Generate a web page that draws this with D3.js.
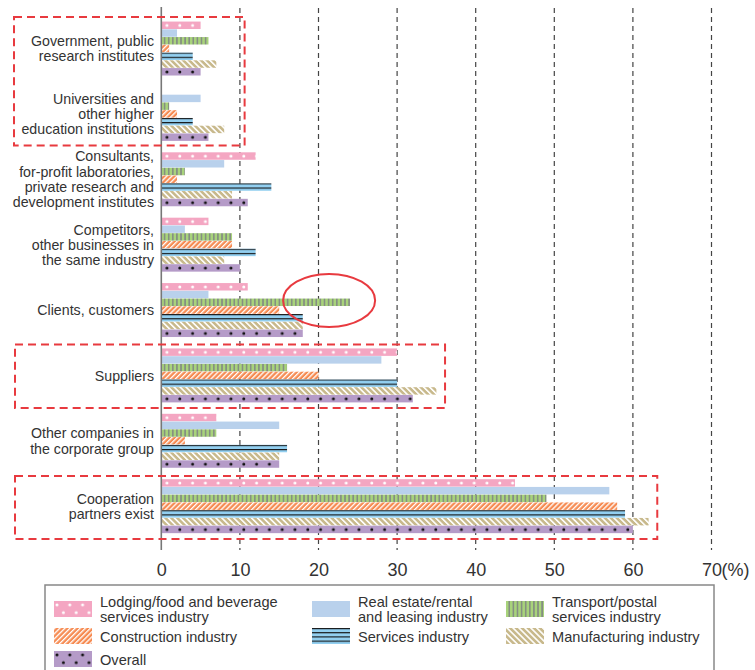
<!DOCTYPE html>
<html>
<head>
<meta charset="utf-8">
<script src="https://cdn.jsdelivr.net/npm/d3@7"></script>
<style>
  html, body { margin: 0; padding: 0; background: #fff; }
  svg { display: block; font-family: "Liberation Sans", Arial, Helvetica, sans-serif; }
</style>
</head>
<body>
<svg id="chart" width="755" height="670"></svg>
<script>
// ---------------- DATA ----------------
const categories = [
  "Government, public research institutes",
  "Universities and other higher education institutions",
  "Consultants, for-profit laboratories, private research and development institutes",
  "Competitors, other businesses in the same industry",
  "Clients, customers",
  "Suppliers",
  "Other companies in the corporate group",
  "Cooperation partners exist"
];
const categoryLines = [
  ["Government, public", "research institutes"],
  ["Universities and", "other higher", "education institutions"],
  ["Consultants,", "for-profit laboratories,", "private research and", "development institutes"],
  ["Competitors,", "other businesses in", "the same industry"],
  ["Clients, customers"],
  ["Suppliers"],
  ["Other companies in", "the corporate group"],
  ["Cooperation", "partners exist"]
];
const seriesNames = [
  "Lodging/food and beverage services industry",
  "Real estate/rental and leasing industry",
  "Transport/postal services industry",
  "Construction industry",
  "Services industry",
  "Manufacturing industry",
  "Overall"
];
const seriesLegendLines = [
  ["Lodging/food and beverage", "services industry"],
  ["Real estate/rental", "and leasing industry"],
  ["Transport/postal", "services industry"],
  ["Construction industry"],
  ["Services industry"],
  ["Manufacturing industry"],
  ["Overall"]
];
const lodging       = [5, 0, 12, 6, 11, 30, 7, 45];
const realEstate    = [2, 5, 8, 3, 6, 28, 15, 57];
const transport     = [6, 1, 3, 9, 24, 16, 7, 49];
const construction  = [1, 2, 2, 9, 15, 20, 3, 58];
const services      = [4, 4, 14, 12, 18, 30, 16, 59];
const manufacturing = [7, 8, 9, 8, 18, 35, 15, 62];
const overall       = [5, 6, 11, 10, 18, 32, 15, 60];
const seriesValues = [lodging, realEstate, transport, construction, services, manufacturing, overall];
const xTicks = [0, 10, 20, 30, 40, 50, 60, 70];

// ---------------- SETUP ----------------
const svg = d3.select("#chart");
const x = d3.scaleLinear().domain([0, 70]).range([161.3, 711.5]);
const y0 = d3.scaleBand().domain(d3.range(categories.length)).range([16, 539])
  .paddingInner(0.17).paddingOuter(0.085);
const y1 = d3.scaleBand().domain(d3.range(seriesNames.length)).range([0, y0.bandwidth()]).padding(0);
const bh = y1.bandwidth();

const defs = svg.append("defs");
const colors = {
  pink: "#f4a6c2", lblue: "#b9d1ec", green: "#a8d37b", greenLine: "#6f6586",
  orange: "#f68b52", sblue: "#92cff0", tan: "#c8b98c", purple: "#b59bc8"
};

function dotPattern(id, bg, dot, h, stagger) {
  const p = defs.append("pattern").attr("id", id).attr("patternUnits", "userSpaceOnUse")
    .attr("width", 12.8).attr("height", stagger ? 15.5 : h);
  p.append("rect").attr("width", 12.8).attr("height", stagger ? 15.5 : h).attr("fill", bg);
  if (stagger) {
    p.append("circle").attr("cx", 3).attr("cy", 3.9).attr("r", 1.5).attr("fill", dot);
    p.append("circle").attr("cx", 9.4).attr("cy", 11.6).attr("r", 1.5).attr("fill", dot);
  } else {
    p.append("circle").attr("cx", 5.7).attr("cy", h / 2).attr("r", 1.5).attr("fill", dot);
  }
}
function solidPattern(id, bg) {
  const p = defs.append("pattern").attr("id", id).attr("patternUnits", "userSpaceOnUse")
    .attr("width", 10).attr("height", 10);
  p.append("rect").attr("width", 10).attr("height", 10).attr("fill", bg);
}
function vLinePattern(id) {
  const p = defs.append("pattern").attr("id", id).attr("patternUnits", "userSpaceOnUse")
    .attr("width", 4.1).attr("height", 10);
  p.append("rect").attr("width", 4.1).attr("height", 10).attr("fill", colors.green);
  p.append("rect").attr("x", 2.8).attr("width", 1).attr("height", 10).attr("fill", colors.greenLine);
}
function diagPattern(id, bg, angle, w, sw) {
  const p = defs.append("pattern").attr("id", id).attr("patternUnits", "userSpaceOnUse")
    .attr("width", w).attr("height", 10).attr("patternTransform", `rotate(${angle})`);
  p.append("rect").attr("width", w).attr("height", 10).attr("fill", bg);
  p.append("rect").attr("x", 0).attr("width", sw).attr("height", 10).attr("fill", "#fff");
}
function hLinePattern(id) {
  const p = defs.append("pattern").attr("id", id).attr("patternUnits", "userSpaceOnUse")
    .attr("width", 10).attr("height", 4.2);
  p.append("rect").attr("width", 10).attr("height", 4.2).attr("fill", colors.sblue);
  p.append("rect").attr("y", 0).attr("width", 10).attr("height", 1.1).attr("fill", "#111");
}

dotPattern("p0", colors.pink, "#fff", bh, false);
dotPattern("p0L", colors.pink, "#fff", bh, true);
solidPattern("p1", colors.lblue);
vLinePattern("p2");
diagPattern("p3", colors.orange, 45, 3.6, 1.3);
hLinePattern("p4");
diagPattern("p5", colors.tan, -45, 4.2, 1.6);
dotPattern("p6", colors.purple, "#111", bh, false);
dotPattern("p6L", colors.purple, "#111", bh, true);

// ---------------- GRID ----------------
const grid = svg.append("g");
grid.selectAll("line.g").data(xTicks.filter(d => d > 0)).join("line")
  .attr("x1", d => x(d)).attr("x2", d => x(d))
  .attr("y1", 8).attr("y2", 550)
  .attr("stroke", "#444").attr("stroke-width", 1.2).attr("stroke-dasharray", "5,4");

// ---------------- BARS ----------------
const groups = svg.append("g").selectAll("g.grp").data(categories).join("g")
  .attr("transform", (d, i) => `translate(0,${y0(i)})`);
groups.each(function (cat, gi) {
  const g = d3.select(this);
  seriesValues.forEach((vals, si) => {
    const v = vals[gi];
    if (v <= 0) return;
    g.append("g").attr("transform", `translate(${x(0)},${y1(si)})`)
      .append("rect").attr("x", 0).attr("y", 0)
      .attr("width", x(v) - x(0)).attr("height", bh - 0.3)
      .attr("fill", `url(#p${si})`);
  });
});

// axis line at 0
svg.append("line").attr("x1", x(0)).attr("x2", x(0)).attr("y1", 7).attr("y2", 550)
  .attr("stroke", "#777").attr("stroke-width", 1.6);

// ---------------- Y LABELS ----------------
const lh = 15.3;
categoryLines.forEach((lines, i) => {
  const cy = y0(i) + y0.bandwidth() / 2;
  const first = cy - (lines.length - 1) * lh / 2 + 5;
  const t = svg.append("text").attr("text-anchor", "end").attr("fill", "#333")
    .attr("font-size", 14.2);
  lines.forEach((ln, k) => {
    t.append("tspan").attr("x", 154).attr("y", first + k * lh).text(ln);
  });
});

// ---------------- X AXIS ----------------
const axis = d3.axisBottom(x).tickValues(xTicks).tickSize(0).tickPadding(13);
const ax = svg.append("g").attr("transform", "translate(0,550)").call(axis);
ax.select(".domain").remove();
ax.selectAll("text").attr("font-size", 18).attr("fill", "#333")
  .attr("font-family", '"Liberation Sans", Arial, sans-serif');
const lastTick = ax.selectAll(".tick text").filter(d => d === 70);
const w70 = lastTick.node().getComputedTextLength();
svg.append("text").attr("x", x(70) + w70 / 2).attr("y", 550 + 13 + 0.71 * 18)
  .attr("font-size", 18).attr("fill", "#333").text("(%)");

// ---------------- ANNOTATIONS ----------------
const red = "#e83a3f";
const boxes = [
  { g0: 0, g1: 1, left: 14, right: x(10.6), top: -4.5, bot: 4.3 },
  { g0: 5, g1: 5, left: 15, right: x(36.1), top: -4, bot: 5.3 },
  { g0: 7, g1: 7, left: 15, right: x(63.1), top: -3.2, bot: 5.5 }
];
boxes.forEach(b => {
  const yt = y0(b.g0) + b.top, yb = y0(b.g1) + y0.bandwidth() + b.bot;
  svg.append("rect").attr("x", b.left).attr("y", yt)
    .attr("width", b.right - b.left).attr("height", yb - yt)
    .attr("fill", "none").attr("stroke", red).attr("stroke-width", 2)
    .attr("stroke-dasharray", "8,5");
});
svg.append("ellipse").attr("cx", x(21.35)).attr("cy", y0(4) + y1(2) + bh / 2 - 2)
  .attr("rx", 46).attr("ry", 26.5)
  .attr("fill", "none").attr("stroke", red).attr("stroke-width", 2);

// ---------------- LEGEND ----------------
const leg = svg.append("g");
leg.append("rect").attr("x", 45).attr("y", 585).attr("width", 669).attr("height", 100)
  .attr("fill", "none").attr("stroke", "#888").attr("stroke-width", 1.5);
const colX = [54, 312, 506];
const rowY = [601, 628, 651];
const legPos = [[0, 0], [1, 0], [2, 0], [0, 1], [1, 1], [2, 1], [0, 2]];
seriesNames.forEach((s, si) => {
  const [c, r] = legPos[si];
  const sx = colX[c], sy = rowY[r];
  let pid = `p${si}`;
  if (si === 0) pid = "p0L";
  if (si === 6) pid = "p6L";
  leg.append("g").attr("transform", `translate(${sx},${sy})`)
    .append("rect").attr("width", 38).attr("height", 16).attr("fill", `url(#${pid})`);
  const lines = seriesLegendLines[si];
  const t = leg.append("text").attr("font-size", 14.6).attr("fill", "#333");
  const base = lines.length === 2 ? sy + 5.5 : sy + 13.5;
  lines.forEach((ln, k) => {
    t.append("tspan").attr("x", sx + 46).attr("y", base + k * 15.2).text(ln);
  });
});
</script>
</body>
</html>
